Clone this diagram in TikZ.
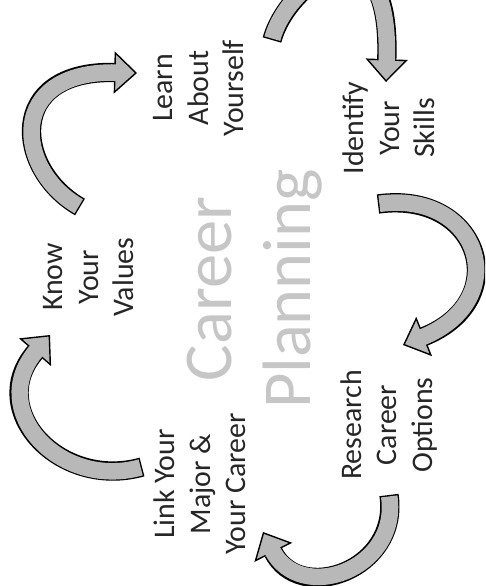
\documentclass[tikz,border=0pt]{standalone}
\usepackage{fontspec}
\setmainfont{Carlito}
\usetikzlibrary{arrows.meta}

\definecolor{arrowgray}{gray}{0.72}

\newcommand{\cyclearrow}[1]{%
  \draw[arrowline] #1;
  \draw[arrowfill] #1;
}

\begin{document}
\begin{tikzpicture}[x=0.02cm, y=-0.02cm,
                    stage/.style={rotate=90, align=center, text=black!85, font=\fontsize{17}{20.2}\selectfont},
                    title/.style={rotate=90, align=center, text=gray!45, font=\fontsize{39}{45}\selectfont},
                    arrowline/.style={line width=11pt, black, -{Triangle[length=13pt, width=24pt, line width=0.8pt, fill=arrowgray]}},
                    arrowfill/.style={line width=9.4pt, arrowgray, shorten >=11.5pt, shorten <=0.8pt}
                ]
                \useasboundingbox (0,0) rectangle (485,586);
                \clip (0,0) rectangle (485,586);

                \node[title] (career) at (255,289) {Career\\Planning};

                \node[stage] (know) at (89,277) {Know\\Your\\Values};
                \node[stage] (learn) at (199,88) {Learn\\About\\Yourself};
                \node[stage] (skills) at (389,128) {Identify\\Your\\Skills};
                \node[stage] (research) at (389,425) {Research\\Career\\Options};
                \node[stage] (link) at (200,484) {Link Your\\Major \&\\Your Career};

                \coordinate (know-out) at (80,207);
                \coordinate (learn-in) at (137,73);
                \coordinate (learn-out) at (272,40);
                \coordinate (skills-in) at (386,82);
                \coordinate (skills-out) at (378,204);
                \coordinate (research-in) at (403,345);
                \coordinate (research-out) at (389,495);
                \coordinate (link-in) at (263,532);
                \coordinate (link-out) at (142,467);
                \coordinate (know-in) at (50,335);

                \cyclearrow{(know-out) .. controls (15,170) and (5,70) .. (learn-in)}
                \cyclearrow{(learn-out) .. controls (288,-20) and (392,-90) .. (skills-in)}
                \cyclearrow{(skills-out) .. controls (480,190) and (515,300) .. (research-in)}
                \cyclearrow{(research-out) .. controls (400,570) and (300,605) .. (link-in)}
                \cyclearrow{(link-out) .. controls (60,490) and (-15,410) .. (know-in)}
                \end{tikzpicture}
\end{document}
